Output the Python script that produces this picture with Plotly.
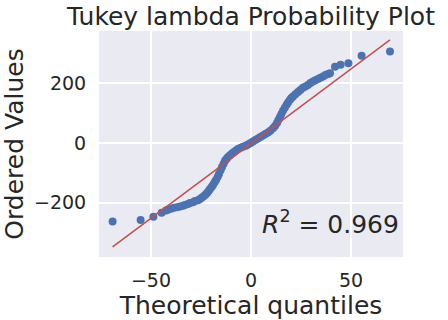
import plotly.graph_objects as go

# Theoretical quantiles (x) and ordered sample values (y)
theoretical_q = [-69.2, -55.2, -48.8, -44.7, -42.5, -41.5, -40.0, -38.5, -37.0, -35.5,
                 -34.0, -33.0, -31.5, -30.5, -29.0, -28.0, -26.5, -25.5, -24.5, -23.5,
                 -22.7, -22.0, -21.2, -20.5, -19.7, -19.0, -18.2, -17.5, -16.7, -16.0,
                 -15.2, -14.5, -13.7, -13.0, -12.2, -11.5, -10.5, -9.5, -8.5, -7.5,
                 -6.5, -5.2, -4.0, -2.7, -1.5, -0.2, 1.0, 2.2, 3.5, 4.7,
                 6.0, 7.2, 8.5, 9.7, 11.0, 12.0, 13.0, 13.7, 14.5, 15.2,
                 16.0, 16.9, 17.8, 18.6, 19.5, 20.2, 21.0, 22.2, 23.5, 24.7,
                 26.0, 27.2, 28.5, 29.7, 31.0, 32.2, 33.5, 34.7, 36.0, 37.2,
                 38.5, 39.5, 42.0, 44.8, 48.7, 55.3, 69.5]
ordered_vals = [-264, -259, -248, -234, -227, -224, -221, -218, -216, -213,
                -211, -208, -205, -202, -199, -195, -192, -188, -183, -178,
                -173, -168, -161, -155, -148, -141, -132, -124, -114, -104,
                -92, -81, -70, -60, -53, -47, -41, -35, -30, -25,
                -20, -16, -13, -9, -5, 0, 5, 10, 15, 20,
                25, 30, 35, 41, 49, 57, 67, 77, 87, 97,
                108, 118, 128, 137, 145, 151, 156, 164, 171, 178,
                185, 190, 195, 201, 206, 211, 215, 219, 223, 228,
                232, 234, 256, 263, 268, 293, 307]

# Least-squares fit line end points
fit_x = [-69.2, 69.5]
fit_y = [-349, 346]
r_squared = 0.969

x_ticks = [-50, 0, 50]
x_tick_labels = ["\u221250", "0", "50"]
y_ticks = [-200, 0, 200]
y_tick_labels = ["\u2212200", "0", "200"]

BLUE = "#4C72B0"
RED = "#C44E52"
TEXT = "#262626"
FONT = "DejaVu Sans"

fig = go.Figure()
fig.add_trace(go.Scatter(x=theoretical_q, y=ordered_vals, mode="markers",
                         marker=dict(color=BLUE, size=8, line=dict(width=0)),
                         showlegend=False, hoverinfo="skip"))
fig.add_trace(go.Scatter(x=fit_x, y=fit_y, mode="lines",
                         line=dict(color=RED, width=1.5),
                         showlegend=False, hoverinfo="skip"))

fig.add_annotation(x=4.5, y=-268, xref="x", yref="y", xanchor="left", yanchor="middle",
                   text="<i>R</i><sup>2</sup> = %.3f" % r_squared, showarrow=False,
                   font=dict(family=FONT, size=25, color=TEXT))

fig.update_layout(
    width=448, height=320,
    margin=dict(l=99, r=45, t=31, b=63),
    paper_bgcolor="white", plot_bgcolor="#EAEAF2",
    font=dict(family=FONT, color=TEXT),
    title=dict(text="Tukey lambda Probability Plot", x=0.5, xref="paper", xanchor="center",
               y=1 - 16 / 320, yref="container", yanchor="middle",
               font=dict(family=FONT, size=25, color=TEXT)),
    xaxis=dict(range=[-76, 76], tickvals=x_ticks, ticktext=x_tick_labels,
               automargin=False,
               showgrid=True, gridcolor="white", gridwidth=1.5, zeroline=False,
               showline=False, ticks="outside", ticklen=6, tickcolor="rgba(0,0,0,0)",
               tickfont=dict(family=FONT, size=19, color=TEXT),
               title=dict(text="Theoretical quantiles", standoff=2,
                          font=dict(family=FONT, size=25, color=TEXT))),
    yaxis=dict(range=[-383, 376], tickvals=y_ticks, ticktext=y_tick_labels,
               automargin=False,
               showgrid=True, gridcolor="white", gridwidth=1.5, zeroline=False,
               showline=False, ticks="outside", ticklen=8, tickcolor="rgba(0,0,0,0)",
               tickfont=dict(family=FONT, size=19, color=TEXT),
               title=dict(text="Ordered Values", standoff=6,
                          font=dict(family=FONT, size=25, color=TEXT))),
)

fig.write_html("out.html", config={"displayModeBar": False},
               post_script="document.body.style.margin='0';")
